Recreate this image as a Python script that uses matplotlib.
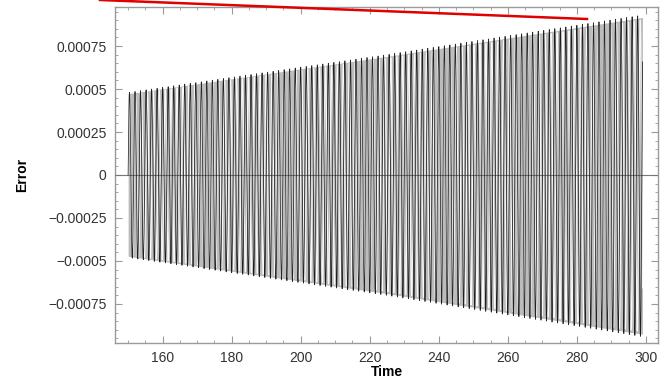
import numpy as np
import matplotlib
matplotlib.use("Agg")
import matplotlib.pyplot as plt
from matplotlib.lines import Line2D
from matplotlib.ticker import FixedLocator, MultipleLocator

# envelope of the error oscillation
env_time = [150.0, 225.0, 299.0]
env_upper = [0.00048, 0.00070, 0.00093]
env_lower = [-0.00048, -0.00070, -0.00094]
period = 1.6          # dark strokes, one peak every ~5.5 px
period_gap = 1.72     # light strokes between them (moire in the scan)

x_ticks = [160, 180, 200, 220, 240, 260, 280, 300]
y_ticks = [-0.00075, -0.0005, -0.00025, 0, 0.00025, 0.0005, 0.00075]
y_labels = ["\u22120.00075", "\u22120.0005", "\u22120.00025", "0",
            "0.00025", "0.0005", "0.00075"]

plt.rcParams["font.family"] = ["Liberation Sans", "DejaVu Sans"]

t = np.linspace(env_time[0], env_time[-1], 12000)
up = np.interp(t, env_time, env_upper)
lo = np.interp(t, env_time, env_lower)


def wave(p):
    s = np.sin(2 * np.pi * (t - env_time[0]) / p)
    return np.where(s >= 0, up * s, -lo * s)


fig = plt.figure(figsize=(6.67, 3.85), dpi=100)
ax = fig.add_axes([115 / 667, 42 / 385, 543 / 667, 336 / 385])

ax.fill_between(t, lo * 0.985, up * 0.985, color="#bcbcbc", lw=0, zorder=1)
ax.plot(t, wave(period_gap) * 0.97, color="white", lw=0.8, alpha=0.9,
        zorder=2)
ax.axhline(0, color="#777777", lw=0.8, zorder=3)
ax.plot(t, wave(period), color="black", lw=0.55, alpha=0.85, zorder=4)

ax.set_xlim(146.2, 303.5)
ax.set_ylim(-0.000977, 0.000977)
ax.xaxis.set_major_locator(FixedLocator(x_ticks))
ax.xaxis.set_minor_locator(MultipleLocator(5))
ax.yaxis.set_major_locator(FixedLocator(y_ticks))
ax.set_yticklabels(y_labels)
ax.yaxis.set_minor_locator(MultipleLocator(0.00005))

for sp in ax.spines.values():
    sp.set_color("#9a9a9a")
    sp.set_linewidth(1.0)
ax.tick_params(which="both", direction="in", top=True, right=True,
               color="#9a9a9a", labelsize=10, labelcolor="#333333")
ax.tick_params(which="major", length=5, width=0.8, pad=6)
ax.tick_params(which="minor", length=2.5, width=0.6)

ax.set_xlabel("Time", fontsize=10, fontweight="bold", labelpad=0)
ax.set_ylabel("Error", fontsize=10, fontweight="bold", labelpad=14)

# red annotation stroke across the top of the image
fig.add_artist(Line2D([100 / 667, 587 / 667], [1.0, 1 - 19 / 385],
                      transform=fig.transFigure, color="#e00000", lw=1.8))

fig.savefig("out.png", dpi=100)
